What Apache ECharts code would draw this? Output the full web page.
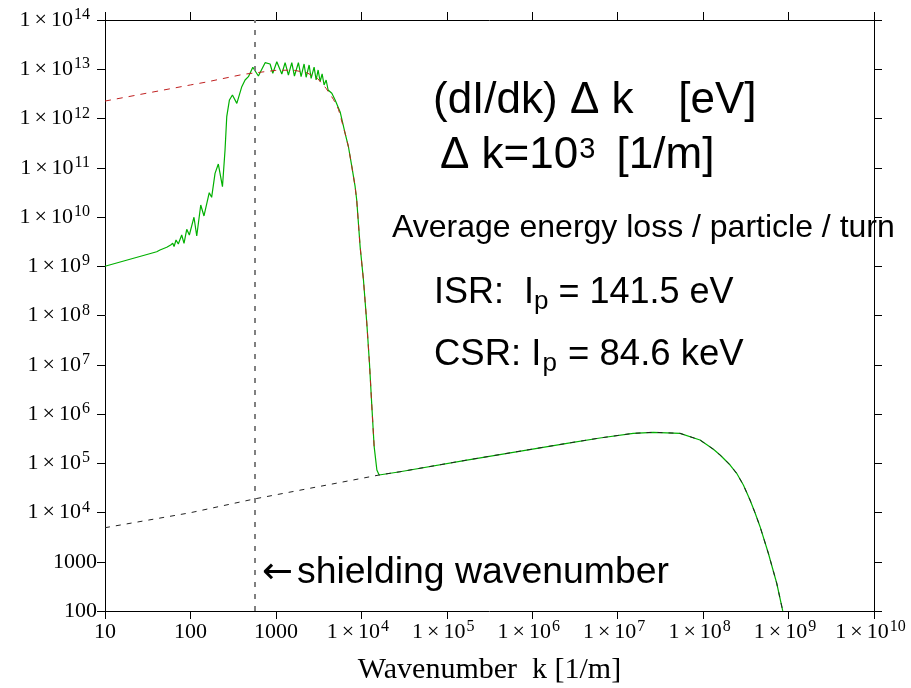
<!DOCTYPE html>
<html><head><meta charset="utf-8">
<script src="https://cdn.jsdelivr.net/npm/echarts@6/dist/echarts.min.js"></script>
<style>html,body{margin:0;padding:0;background:#fff}#c{width:911px;height:688px}</style>
</head><body><div id="c"></div>
<script>
// shielding wavenumber [1/m]
const shieldK = 560;

// total spectrum (green), CSR-dominated head
const greenHeadK = [10, 40.3, 44, 52.8, 55.1, 58.7, 62.1, 64.3, 67.8, 72.1, 79.0, 84.1, 90.5, 97.1, 110, 118.5, 132, 144, 166, 177, 194, 212, 237, 254, 266, 286, 310, 349, 399, 436, 477, 537, 624, 748, 855, 920, 1025, 1173, 1282, 1401, 1535, 1648, 1834, 1972, 2138, 2259, 2449, 2585, 2801, 2958, 3121, 3296, 3477, 3667, 3873, 4084, 4515, 4935, 5649, 6460, 7063, 7744, 8460, 8830, 9680, 10590, 11590, 12450, 13280, 14130, 15200];
const greenHeadV = [1.0e9, 1.97e9, 2.14e9, 2.43e9, 2.24e9, 2.70e9, 2.92e9, 2.50e9, 3.41e9, 2.83e9, 4.31e9, 2.92e9, 5.62e9, 4.31e9, 9.9e9, 4.11e9, 1.75e10, 1.05e10, 3.12e10, 2.51e10, 7.7e10, 1.19e11, 4.12e10, 2.29e11, 1.09e12, 2.38e12, 3.00e12, 2.03e12, 4.43e12, 6.05e12, 7.07e12, 1.10e13, 7.29e12, 1.36e13, 1.28e13, 8.28e12, 1.42e13, 8.02e12, 1.36e13, 7.64e12, 1.36e13, 7.29e12, 1.36e13, 7.06e12, 1.28e13, 6.87e12, 1.22e13, 6.55e12, 1.10e13, 6.05e12, 9.66e12, 5.64e12, 8.02e12, 4.79e12, 6.05e12, 3.79e12, 3.25e12, 2.38e12, 1.36e12, 5.0e11, 2.67e11, 1.05e11, 4.12e10, 2.21e10, 2.5e9, 5.26e8, 6.95e7, 1.07e7, 1.41e6, 2.17e5, 7.3e4];

// incoherent SR tail (green, overlaid by black dashed)
const isrTailK = [16150, 28400, 1.72e5, 2.55e6, 6.2e6, 1.52e7, 2.61e7, 5.37e7, 9.2e7, 1.32e8, 1.58e8, 2.07e8, 2.47e8, 2.96e8, 3.54e8, 4.05e8, 4.64e8, 5.80e8, 7.27e8, 8.55e8];
const isrTailV = [5.77e4, 6.73e4, 1.16e5, 2.54e5, 3.26e5, 4.05e5, 4.25e5, 4.05e5, 2.96e5, 1.92e5, 1.47e5, 9.2e4, 6.25e4, 3.61e4, 1.79e4, 9.9e3, 5.15e3, 1.49e3, 366, 101];

// incoherent SR extrapolated to low k (black dashed)
const isrLowK = [10, 100, 556];
const isrLowV = [4.91e3, 9.9e3, 1.88e4];

// free-space CSR (red dashed)
const csrFreeK = [10, 100, 148, 416, 1000, 1600, 2300, 3060, 3870, 4710, 5400, 6460, 7063, 7744, 8460, 8830, 9680, 10590, 11590, 12450, 13280, 14130];
const csrFreeV = [2.26e12, 4.8e12, 5.43e12, 7.89e12, 9.5e12, 9.6e12, 8.5e12, 6.55e12, 4.1e12, 2.45e12, 1.54e12, 5.0e11, 2.67e11, 1.05e11, 4.12e10, 2.21e10, 2.5e9, 5.26e8, 6.95e7, 1.07e7, 1.41e6, 2.17e5];

// tick labels
const xTickText = ['10', '100', '1000', '1×10^4', '1×10^5', '1×10^6', '1×10^7', '1×10^8', '1×10^9', '1×10^10'];
const yTickText = ['100', '1000', '1×10^4', '1×10^5', '1×10^6', '1×10^7', '1×10^8', '1×10^9', '1×10^10', '1×10^11', '1×10^12', '1×10^13', '1×10^14'];

function pairs(k, v) { return k.map((x, i) => [x, v[i]]); }
function fmt(list, minExp) {
  return function (val) {
    const e = Math.round(Math.log10(val));
    const t = list[e - minExp];
    if (t == null) return '';
    const p = t.split('^');
    if (p.length < 2) return '{m|' + t + '}';
    const q = p[0].split('×');
    return '{m|' + q[0] + '}{x|×}{m|' + q[1] + '}{s|' + p[1] + '}';
  };
}
const SERIF = 'Liberation Serif';
const tickRich = {
  m: { fontFamily: SERIF, fontSize: 22, color: '#000', lineHeight: 26 },
  x: { fontFamily: SERIF, fontSize: 22, color: '#000', lineHeight: 26, padding: [0, 4, 0, 4] },
  s: { fontFamily: SERIF, fontSize: 16, color: '#000', lineHeight: 24, verticalAlign: 'top', padding: [0, 7, 0, 1] }
};
const axisCommon = {
  type: 'log', logBase: 10,
  axisLine: { show: true, lineStyle: { color: '#000', width: 1 } },
  axisTick: { show: true, inside: false, length: 8, lineStyle: { color: '#000', width: 1 } },
  splitLine: { show: false },
  minorTick: { show: false }
};

const chart = echarts.init(document.getElementById('c'), null, { renderer: 'canvas' });
chart.setOption({
  animation: false,
  backgroundColor: '#fff',
  grid: { left: 105, right: 37, top: 20, bottom: 77, containLabel: false, outerBoundsMode: 'none' },
  xAxis: [
    Object.assign({}, axisCommon, {
      min: 10, max: 1e10, interval: 1, position: 'bottom',
      axisLabel: { show: true, margin: 8, formatter: fmt(xTickText, 1), rich: tickRich },
      name: 'Wavenumber  k [1/m]', nameLocation: 'middle', nameGap: 44,
      nameTextStyle: { fontFamily: SERIF, fontSize: 30, color: '#000' }
    }),
    Object.assign({}, axisCommon, {
      min: 10, max: 1e10, interval: 1, position: 'top',
      axisLabel: { show: false }
    })
  ],
  yAxis: [
    Object.assign({}, axisCommon, {
      min: 100, max: 1e14, interval: 1, position: 'left',
      axisLabel: { show: true, margin: 8, formatter: fmt(yTickText, 2), rich: tickRich }
    }),
    Object.assign({}, axisCommon, {
      min: 100, max: 1e14, interval: 1, position: 'right',
      axisLabel: { show: false }
    })
  ],
  series: [
    {
      type: 'line', name: 'total', data: pairs(greenHeadK.concat(isrTailK), greenHeadV.concat(isrTailV)),
      showSymbol: false, symbol: 'none',
      lineStyle: { color: '#00b000', width: 1.2 }, z: 2
    },
    {
      type: 'line', name: 'CSR free space', data: pairs(csrFreeK, csrFreeV),
      showSymbol: false, symbol: 'none',
      lineStyle: { color: '#c02020', width: 1, type: [6, 6] }, z: 3
    },
    {
      type: 'line', name: 'ISR', data: pairs(isrLowK.concat(isrTailK), isrLowV.concat(isrTailV)),
      showSymbol: false, symbol: 'none',
      lineStyle: { color: '#222', width: 1, type: [5, 6] }, z: 3,
      markLine: {
        silent: true, symbol: 'none', animation: false,
        label: { show: false },
        lineStyle: { color: '#808080', width: 2, type: [5, 7] },
        data: [{ xAxis: shieldK }]
      }
    }
  ],
  graphic: [
    { type: 'text', x: 433, y: 101, style: { text: '{a|(dI/dk) Δ k   }{g|[eV]}', verticalAlign: 'middle', rich: {
      a: { font: '44px "Liberation Sans"', fill: '#000', lineHeight: 50 },
      g: { font: '44px "Liberation Sans"', fill: '#000', lineHeight: 50, padding: [0, 0, 0, 8] } } } },
    { type: 'text', x: 440, y: 156, style: { text: '{a|Δ k=10}{b|3}{a| [1/m]}', verticalAlign: 'middle', rich: {
      a: { font: '44px "Liberation Sans"', fill: '#000', lineHeight: 50 },
      b: { font: '29px "Liberation Sans"', fill: '#000', lineHeight: 50, verticalAlign: 'top', padding: [4, 9, 0, 1] } } } },
    { type: 'text', x: 392, y: 228, style: { text: 'Average energy loss / particle / turn', font: '32px "Liberation Sans"', fill: '#000', verticalAlign: 'middle' } },
    { type: 'text', x: 434, y: 293, style: { text: '{a|ISR:  I}{b|p}{a| = 141.5 eV}', verticalAlign: 'middle', rich: {
      a: { font: '36px "Liberation Sans"', fill: '#000', lineHeight: 44 },
      b: { font: '26px "Liberation Sans"', fill: '#000', lineHeight: 24, verticalAlign: 'bottom' } } } },
    { type: 'text', x: 434, y: 355, style: { text: '{a|CSR: I}{b|p}{a| = 84.6 keV}', verticalAlign: 'middle', rich: {
      a: { font: '36.5px "Liberation Sans"', fill: '#000', lineHeight: 44 },
      b: { font: '26px "Liberation Sans"', fill: '#000', lineHeight: 24, verticalAlign: 'bottom', padding: [0, 1, 0, 1] } } } },
    { type: 'text', x: 262, y: 573, style: { text: '{r|←}{a|shielding wavenumber}', verticalAlign: 'middle', rich: {
      r: { font: '37px "DejaVu Sans"', fill: '#000', lineHeight: 44 },
      a: { font: '37.4px "Liberation Sans"', fill: '#000', lineHeight: 44, padding: [0, 0, 0, 4] } } } }
  ]
});
</script>
</body></html>
